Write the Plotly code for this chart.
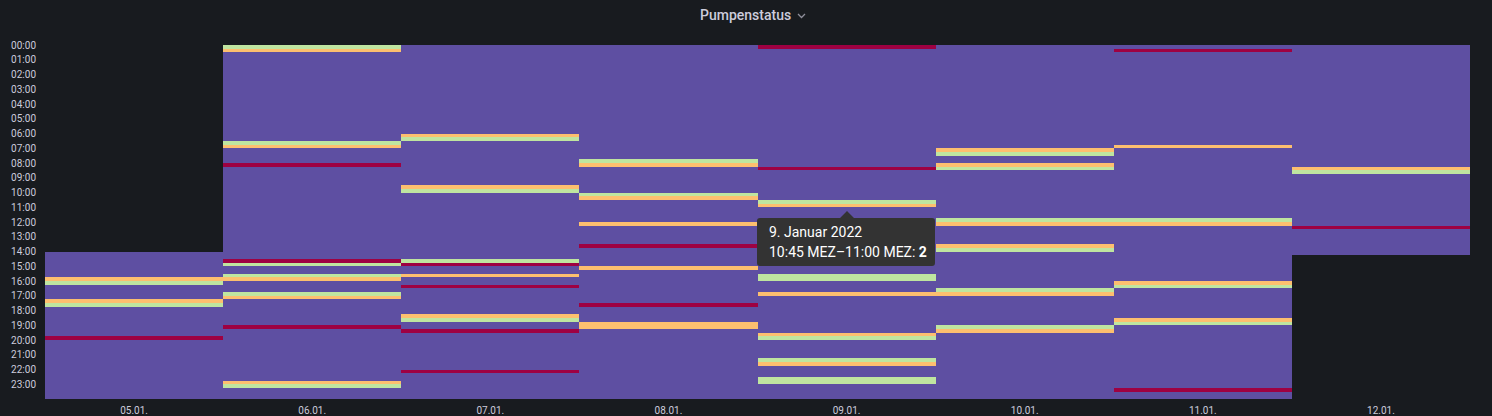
import plotly.graph_objects as go

# Pumpenstatus, 15-minute slots per day
# status: 1 = rot, 2 = orange, 3 = grün, 4 = Grundzustand (lila)
days = ["05.01.", "06.01.", "07.01.", "08.01.", "09.01.", "10.01.", "11.01.", "12.01."]
first_slot = ["14:00", "00:00", "00:00", "00:00", "00:00", "00:00", "00:00", "00:00"]
last_slot = ["23:45", "23:45", "23:45", "23:45", "23:45", "23:45", "23:45", "14:00"]
base_status = 4

ev_0501 = [("15:45", 2), ("16:00", 3), ("17:15", 2), ("17:30", 3), ("19:45", 1)]
ev_0601 = [("00:00", 3), ("00:15", 2), ("06:30", 3), ("06:45", 2), ("08:00", 1),
           ("14:30", 1), ("14:45", 3), ("15:30", 3), ("15:45", 2), ("16:45", 3),
           ("17:00", 2), ("19:00", 1), ("22:45", 2), ("23:00", 3)]
ev_0701 = [("06:00", 2), ("06:15", 3), ("09:30", 2), ("09:45", 3), ("14:30", 3),
           ("14:45", 1), ("15:30", 2), ("16:15", 1), ("18:15", 2), ("18:30", 3),
           ("19:15", 1), ("22:00", 1)]
ev_0801 = [("07:45", 3), ("08:00", 2), ("10:00", 3), ("10:15", 2), ("12:00", 2),
           ("13:30", 1), ("15:00", 2), ("17:30", 1), ("18:45", 2), ("19:00", 2)]
ev_0901 = [("00:00", 1), ("08:15", 1), ("10:30", 3), ("10:45", 2), ("15:30", 3),
           ("15:45", 3), ("16:45", 2), ("19:30", 2), ("19:45", 3), ("21:15", 3),
           ("21:30", 2), ("22:30", 3), ("22:45", 3)]
ev_1001 = [("07:00", 2), ("07:15", 3), ("08:00", 2), ("08:15", 3), ("11:45", 3),
           ("12:00", 2), ("13:30", 2), ("13:45", 3), ("16:30", 3), ("16:45", 2),
           ("19:00", 3), ("19:15", 2)]
ev_1101 = [("00:15", 1), ("06:45", 2), ("11:45", 3), ("12:00", 2), ("16:00", 2),
           ("16:15", 3), ("18:30", 2), ("18:45", 3), ("23:15", 1)]
ev_1201 = [("08:15", 2), ("08:30", 3), ("12:15", 1)]

events = [ev_0501, ev_0601, ev_0701, ev_0801, ev_0901, ev_1001, ev_1101, ev_1201]

hour_labels = [f"{h:02d}:00" for h in range(24)]


def slot(t):
    h, m = t.split(":")
    return int(h) * 4 + int(m) // 15


# z[row = slot][col = day]
z = [[None] * len(days) for _ in range(96)]
for d in range(len(days)):
    for s in range(slot(first_slot[d]), slot(last_slot[d]) + 1):
        z[s][d] = base_status
    for t, v in events[d]:
        z[slot(t)][d] = v

W, H = 1492, 416
ML, MR, MT, MB = 45, 22, 45, 17
PW, PH = W - ML - MR, H - MT - MB


def px(x):
    return (x - ML) / PW


def py(y):
    return (H - MB - y) / PH


fig = go.Figure(go.Heatmap(
    z=z,
    x=list(range(len(days))),
    y0=0.125, dy=0.25,
    colorscale="Spectral",
    zmin=1, zmax=4,
    showscale=False,
    hoverinfo="skip",
))

# tooltip box (rounded) with pointer
x0, x1, y0, y1, r = 757, 935, 218, 266, 3
path = (f"M {px(x0 + r)} {py(y0)} L {px(840)} {py(y0)} L {px(847)} {py(211)} "
        f"L {px(854)} {py(y0)} L {px(x1 - r)} {py(y0)} "
        f"Q {px(x1)} {py(y0)} {px(x1)} {py(y0 + r)} L {px(x1)} {py(y1 - r)} "
        f"Q {px(x1)} {py(y1)} {px(x1 - r)} {py(y1)} L {px(x0 + r)} {py(y1)} "
        f"Q {px(x0)} {py(y1)} {px(x0)} {py(y1 - r)} L {px(x0)} {py(y0 + r)} "
        f"Q {px(x0)} {py(y0)} {px(x0 + r)} {py(y0)} Z")
fig.add_shape(type="path", path=path, xref="paper", yref="paper",
              fillcolor="#333333", line=dict(width=0), layer="above")

# chevron next to title
fig.add_shape(type="path", xref="paper", yref="paper",
              path=f"M {px(798)} {py(14)} L {px(801.5)} {py(17.5)} L {px(805)} {py(14)}",
              line=dict(color="#8e8e9a", width=1.3))

fig.add_annotation(x=px(745), y=py(15), xref="paper", yref="paper",
                   text="Pumpenstatus", showarrow=False,
                   font=dict(family="Roboto", size=14, color="#ccccdc", weight=500),
                   xanchor="center", yanchor="middle")
fig.add_annotation(x=px(767), y=py(232), xref="paper", yref="paper",
                   text="9. Januar 2022", showarrow=False,
                   font=dict(family="Roboto", size=14, color="#ffffff"),
                   xanchor="left", yanchor="middle")
fig.add_annotation(x=px(767), y=py(252), xref="paper", yref="paper",
                   text="10:45 MEZ–11:00 MEZ: <b>2</b>", showarrow=False,
                   font=dict(family="Roboto", size=14, color="#ffffff"),
                   xanchor="left", yanchor="middle")

fig.update_layout(
    width=W, height=H,
    margin=dict(l=ML, r=MR, t=MT, b=MB, autoexpand=False),
    paper_bgcolor="#181b1f",
    plot_bgcolor="#181b1f",
    font=dict(family="Roboto", color="#ccccdc", size=10),
    xaxis=dict(range=[-0.5, len(days) - 0.5], tickvals=list(range(len(days))),
               ticktext=days, showgrid=False, zeroline=False, showline=False,
               ticks="", ticklabelstandoff=4, automargin=False),
    yaxis=dict(range=[24, 0], tickvals=list(range(24)), ticktext=hour_labels,
               showgrid=False, zeroline=False, showline=False, ticks="",
               ticklabelstandoff=8, automargin=False),
)

# drop the default page margin so the figure fills the window
fig.write_html("out.html", config={"displayModeBar": False}, post_script=(
    "document.body.style.margin='0';"
    "document.body.style.background='#181b1f';"
    "document.body.style.overflow='hidden';"))
